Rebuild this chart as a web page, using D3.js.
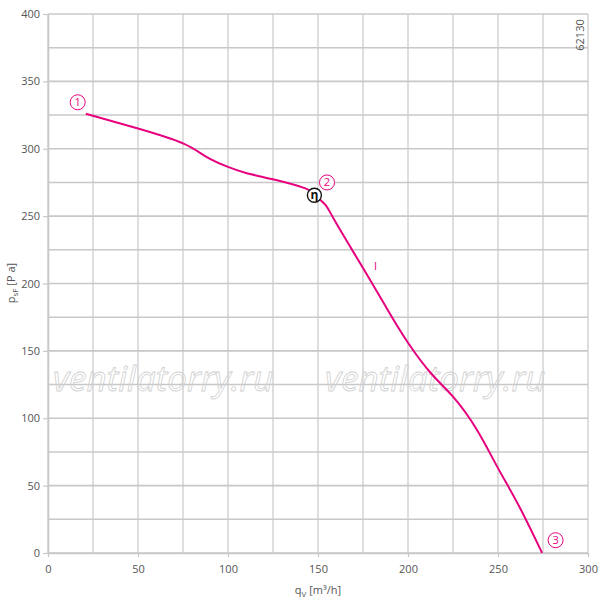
<!DOCTYPE html>
<html><head><meta charset="utf-8">
<script src="https://cdn.jsdelivr.net/npm/d3@7/dist/d3.min.js"></script>
<style>body{margin:0;background:#fff;} svg{display:block;}</style>
</head><body>
<svg id="c" width="600" height="601"></svg>
<script>
const xTicks = [0, 50, 100, 150, 200, 250, 300];
const yTicks = [0, 50, 100, 150, 200, 250, 300, 350, 400];
const flowQ = [21, 50, 75, 88, 100, 110, 125, 143, 148, 154, 160, 175, 188, 200, 213, 225, 238, 250, 262, 274.5];
const pressP = [326, 315, 304, 294, 286.5, 282, 277.3, 270.6, 266, 258.5, 245, 211.5, 182, 156, 133, 116, 92, 63, 34, 0];
const markers = [{t:"1", q:16.5, p:334.5}, {t:"2", q:155, p:275}, {t:"3", q:282, p:9.5}];

const svg = d3.select("#c");
const x = d3.scaleLinear().domain([0,300]).range([48,588]);
const y = d3.scaleLinear().domain([0,400]).range([553,14]);
const gridC = "#c8c8c8", textC = "#555", mag = "#e6007e";
const font = "'Open Sans', 'DejaVu Sans', sans-serif";

// grid
const g = svg.append("g");
d3.range(0,301,25).forEach(v => g.append("line").attr("x1",x(v)).attr("x2",x(v)).attr("y1",y(0)).attr("y2",y(400)).attr("stroke",gridC).attr("stroke-width",1.2));
d3.range(0,401,25).forEach(v => g.append("line").attr("x1",x(0)).attr("x2",x(300)).attr("y1",y(v)).attr("y2",y(v)).attr("stroke",gridC).attr("stroke-width",1.6));

// axes
const xa = svg.append("g").attr("transform",`translate(0,${y(0)})`)
  .call(d3.axisBottom(x).tickValues(xTicks).tickSize(4).tickPadding(8).tickSizeOuter(0));
const ya = svg.append("g").attr("transform",`translate(${x(0)},0)`)
  .call(d3.axisLeft(y).tickValues(yTicks).tickSize(5).tickPadding(3).tickSizeOuter(0));
[xa,ya].forEach(a => {
  a.select(".domain").attr("stroke",gridC).attr("stroke-width",1.6);
  a.selectAll(".tick line").attr("stroke",gridC).attr("stroke-width",1.2);
  a.selectAll("text").attr("fill",textC).style("font-family",font).style("font-size","11px");
});

// watermark
[53, 325].forEach(px => svg.append("text").attr("x",px).attr("y",391)
  .text("ventilatorry.ru").attr("fill","none").attr("stroke","#cfcfcf").attr("stroke-width",0.8)
  .style("font-family",font).style("font-style","italic").style("font-size","35px"));

// curve
const pts = flowQ.map((q,i)=>[q,pressP[i]]);
svg.append("path").attr("d", d3.line().x(d=>x(d[0])).y(d=>y(d[1])).curve(d3.curveNatural)(pts))
  .attr("fill","none").attr("stroke",mag).attr("stroke-width",2);

// markers
markers.forEach(m => {
  svg.append("circle").attr("cx",x(m.q)).attr("cy",y(m.p)).attr("r",7.5).attr("fill","#fff").attr("stroke",mag).attr("stroke-width",1);
  svg.append("text").attr("x",x(m.q)).attr("y",y(m.p)+4).attr("text-anchor","middle").text(m.t)
    .attr("fill",mag).style("font-family",font).style("font-size","11px");
});
// efficiency marker
svg.append("circle").attr("cx",x(148)).attr("cy",y(265.5)).attr("r",7).attr("fill","#fff").attr("stroke","#111").attr("stroke-width",1.4);
svg.append("text").attr("x",x(148)).attr("y",y(265.5)+4).attr("text-anchor","middle").text("η")
  .attr("fill","#111").style("font-family",font).style("font-size","12px").style("font-weight","bold");

// curve label
svg.append("text").attr("x",x(182)).attr("y",y(210)).attr("text-anchor","middle").text("I")
  .attr("fill",mag).style("font-family",font).style("font-size","11px");

// axis titles
const xt = svg.append("text").attr("x",318).attr("y",594).attr("text-anchor","middle").attr("fill",textC)
  .style("font-family",font).style("font-size","11px");
xt.append("tspan").text("q");
xt.append("tspan").text("V").attr("dy",3).style("font-size","8px");
xt.append("tspan").text(" [m³/h]").attr("dy",-3);

const yt = svg.append("text").attr("transform","translate(15,283) rotate(-90)").attr("text-anchor","middle").attr("fill",textC)
  .style("font-family",font).style("font-size","11px");
yt.append("tspan").text("p");
yt.append("tspan").text("sF").attr("dy",3).style("font-size","8px");
yt.append("tspan").text(" [P a]").attr("dy",-3);

svg.append("text").attr("transform","translate(584,35) rotate(-90)").attr("text-anchor","middle").attr("fill",textC)
  .style("font-family",font).style("font-size","11px").text("62130");
</script>
</body></html>
